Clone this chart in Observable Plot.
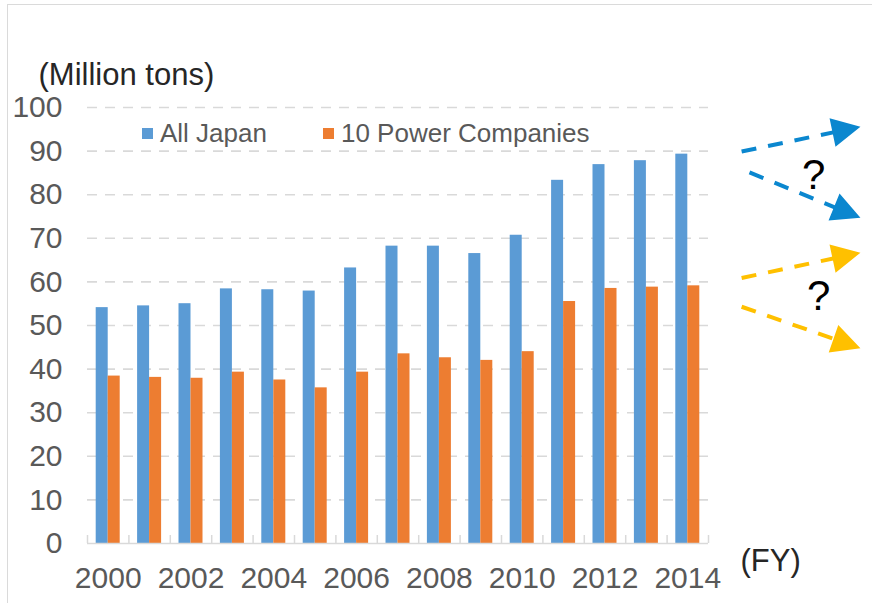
<!DOCTYPE html>
<html><head><meta charset="utf-8">
<script src="https://cdn.jsdelivr.net/npm/d3@7"></script>
<script src="https://cdn.jsdelivr.net/npm/@observablehq/plot@0.6"></script>
<style>
html,body{margin:0;padding:0;background:#fff;overflow:hidden}
#wrap{position:relative;width:872px;height:603px;font-family:"Liberation Sans",Arial,sans-serif}
#chart{position:absolute;left:0;top:0}
#legend{position:absolute;left:142px;top:118px}
#border{position:absolute;left:7px;top:4px;width:900px;height:700px;border-top:1.5px solid #dadada;border-left:1.5px solid #dadada;pointer-events:none}
.lg-swatches{font-family:"Liberation Sans",Arial,sans-serif!important;font-size:26px!important;color:#595959!important;margin:0!important;min-height:0!important}
.lg-swatch{margin-right:56px!important}
.lg-swatch>svg{margin-right:7px!important}
</style></head><body>
<div id="wrap"><div id="chart"></div><div id="legend"></div><div id="border"></div></div>
<script>
// ---- data ----
const years = [2000, 2001, 2002, 2003, 2004, 2005, 2006, 2007, 2008, 2009, 2010, 2011, 2012, 2013, 2014];
const seriesNames = ["All Japan", "10 Power Companies"];
const allJapan = [54.1, 54.5, 55.0, 58.4, 58.2, 57.9, 63.2, 68.2, 68.2, 66.5, 70.7, 83.3, 86.9, 87.8, 89.3];
const tenPowerCompanies = [38.4, 38.1, 37.9, 39.3, 37.5, 35.7, 39.3, 43.5, 42.6, 42.0, 44.0, 55.5, 58.5, 58.8, 59.1];
const yTicks = [0, 10, 20, 30, 40, 50, 60, 70, 80, 90, 100];
const xTickLabels = [2000, 2002, 2004, 2006, 2008, 2010, 2012, 2014];
const seriesColors = ["#5b9bd5", "#ed7d31"];
const yTitle = "(Million tons)";
const xTitle = "(FY)";

// future-scenario arrows (year, million tons)
const arrowFromYear = [2015.3, 2015.49, 2015.3, 2015.3];
const arrowFromValue = [89.9, 85.1, 60.9, 54.3];
const arrowToYear = [2018.17, 2018.17, 2018.17, 2018.17];
const arrowToValue = [95.6, 74.7, 66.7, 44.8];
const arrowColors = ["#0b87cf", "#0b87cf", "#ffc000", "#ffc000"];
const questionYear = [2017.04, 2017.16];
const questionValue = [84.4, 56.7];

// ---- tables built from the arrays ----
const rows = years.map((year, i) => ({year, allJapan: allJapan[i], ten: tenPowerCompanies[i]}));
const boundaries = [years[0] - 0.5, ...years.map(y => y + 0.5)];
const arrows = arrowFromYear.map((x1, i) => ({x1, y1: arrowFromValue[i], x2: arrowToYear[i], y2: arrowToValue[i], color: arrowColors[i]}));
const questions = questionYear.map((x, i) => ({x, y: questionValue[i]}));

const font = '"Liberation Sans", Arial, sans-serif';
const grid = "#d9d9d9";

const chart = Plot.plot({
  width: 872,
  height: 603,
  marginLeft: 87,
  marginRight: 164,
  marginTop: 107,
  marginBottom: 60,
  x: {domain: [years[0] - 0.5, years[years.length - 1] + 0.5], label: null},
  y: {domain: [0, 100], label: null},
  style: {fontFamily: font, fontSize: "30px", color: "#595959", background: "transparent", overflow: "visible"},
  marks: [
    Plot.gridY(yTicks.filter(v => v > 0), {stroke: grid, strokeOpacity: 1, strokeWidth: 1.6, strokeDasharray: "10,8"}),
    Plot.rect(rows, {x1: d => d.year - 0.5, x2: d => d.year, y1: 0, y2: "allJapan", fill: seriesColors[0], insetLeft: 8.7}),
    Plot.rect(rows, {x1: d => d.year, x2: d => d.year + 0.5, y1: 0, y2: "ten", fill: seriesColors[1], insetRight: 8.7}),
    Plot.ruleY([0], {stroke: grid, strokeWidth: 1.5}),
    Plot.ruleX(boundaries, {y1: 0, y2: 0, insetTop: -8, stroke: grid, strokeWidth: 1.5}),
    Plot.axisY(yTicks, {tickSize: 0, tickPadding: 25, fontSize: 30, label: null}),
    Plot.axisX(xTickLabels, {tickSize: 0, tickPadding: 23, fontSize: 30, tickFormat: d => String(d), label: null}),
    Plot.text([yTitle], {text: d => d, frameAnchor: "top-left", textAnchor: "start", lineAnchor: "middle", dx: -49, dy: -32, fontSize: 31, fill: "#262626"}),
    Plot.text([xTitle], {text: d => d, frameAnchor: "bottom-right", textAnchor: "start", lineAnchor: "middle", dx: 32, dy: 18, fontSize: 31, fill: "#262626"}),
    // dashed shafts
    Plot.arrow(arrows, {x1: "x1", y1: "y1", x2: "x2", y2: "y2", stroke: "color", strokeWidth: 4, headLength: 0, insetEnd: 14, strokeDasharray: "15,12", strokeLinecap: "butt"}),
    // filled heads
    Plot.arrow(arrows, {x1: "x1", y1: "y1", x2: "x2", y2: "y2", fill: "color", stroke: "none", strokeWidth: 4, headLength: 12, headAngle: 54}),
    Plot.text(questions, {x: "x", y: "y", text: d => "?", fontSize: 42, fill: "#000"})
  ]
});
document.getElementById("chart").appendChild(chart);

const legend = Plot.legend({
  color: {domain: seriesNames, range: seriesColors},
  legend: "swatches",
  swatchSize: 11,
  className: "lg"
});
document.getElementById("legend").appendChild(legend);
</script>
</body></html>
